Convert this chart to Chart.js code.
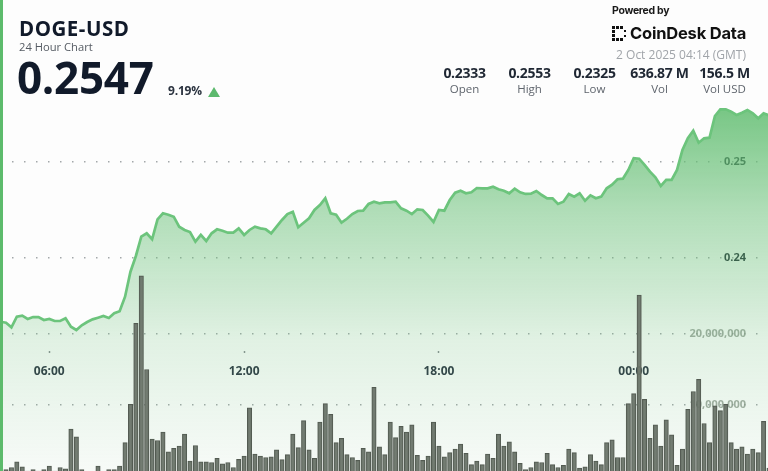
<!DOCTYPE html>
<html>
<head>
<meta charset="utf-8">
<script src="https://cdn.jsdelivr.net/npm/chart.js@4.4.1/dist/chart.umd.min.js"></script>
<style>
  html, body { margin: 0; padding: 0; background: #fdfdfd; }
  body { width: 768px; height: 471px; position: relative; overflow: hidden; font-family: 'Open Sans', sans-serif; color: #111a2a; }
  #chart { position: absolute; left: 0; top: 0; }
  .edge { position: absolute; left: 0; top: 0; width: 3px; height: 471px; background: #5dbb6c; }
  .abs { position: absolute; line-height: 1; white-space: nowrap; }
  .pair { left: 19px; top: 18px; font-size: 20.5px; font-weight: 700; letter-spacing: 0.5px; }
  .sub { left: 19px; top: 41px; font-size: 11.2px; color: #555b63; }
  .last { left: 17px; top: 55px; font-size: 44px; font-weight: 700; letter-spacing: -0.3px; }
  .chg { left: 168px; top: 85px; font-size: 12px; font-weight: 700; color: #2c3440; letter-spacing: -0.2px; }
  .tri { position: absolute; left: 208px; top: 87px; width: 0; height: 0; border-left: 6px solid transparent; border-right: 6px solid transparent; border-bottom: 10px solid #5cb96d; }
  .powered { left: 612px; top: 6px; font-family: Inter, sans-serif; font-size: 10.5px; font-weight: 700; letter-spacing: -0.3px; color: #1a1a1a; }
  .brand { left: 630px; top: 25px; font-family: Inter, sans-serif; font-size: 16.5px; font-weight: 700; letter-spacing: -0.2px; color: #111; }
  .logo span { position: absolute; width: 3px; height: 3px; background: #111; }
  .date { right: 22px; top: 49px; font-size: 12px; color: #a0a4a9; }
  .stats { position: absolute; left: 432px; top: 66px; display: flex; }
  .stats div { width: 65px; text-align: center; line-height: 1; }
  .stats b { display: block; font-size: 14px; font-weight: 700; letter-spacing: -0.3px; color: #1f2733; }
  .stats i { display: block; font-style: normal; font-size: 11.5px; color: #5f656d; margin-top: 3px; }
</style>
</head>
<body>
<canvas id="chart" width="768" height="471"></canvas>
<div class="edge"></div>
<div class="abs pair">DOGE-USD</div>
<div class="abs sub">24 Hour Chart</div>
<div class="abs last">0.2547</div>
<div class="abs chg">9.19%</div>
<div class="tri"></div>
<div class="abs powered">Powered by</div>
<div class="logo">
  <span style="left:612px;top:26px"></span><span style="left:616px;top:26px"></span><span style="left:620px;top:26px"></span>
  <span style="left:612px;top:30px"></span><span style="left:612px;top:34px"></span>
  <span style="left:612px;top:38px"></span><span style="left:616px;top:38px"></span><span style="left:620px;top:38px"></span>
  <span style="left:624px;top:30px;width:2px;height:2px"></span><span style="left:624px;top:35px;width:2px;height:2px"></span>
</div>
<div class="abs brand">CoinDesk Data</div>
<div class="abs date">2 Oct 2025 04:14 (GMT)</div>
<div class="stats" id="stats"></div>
<script>
// 10-minute samples, first one at 04:30 GMT (hours since midnight of the first day)
const timeStart = 4.5;
const stepHours = 1 / 6;

const price = [
  0.23336, 0.23326, 0.23278, 0.23389, 0.23399, 0.23365, 0.23385, 0.23385, 0.23354, 0.23365,
  0.23344, 0.23344, 0.23372, 0.23284, 0.23250, 0.23299, 0.23333, 0.23361, 0.23378, 0.23396,
  0.23375, 0.23424, 0.23445, 0.23597, 0.23857, 0.24021, 0.24222, 0.24257, 0.24195, 0.24403,
  0.24466, 0.24451, 0.24430, 0.24326, 0.24292, 0.24271, 0.24170, 0.24240, 0.24177, 0.24257,
  0.24299, 0.24284, 0.24264, 0.24264, 0.24309, 0.24240, 0.24292, 0.24326, 0.24309, 0.24299,
  0.24257, 0.24326, 0.24396, 0.24458, 0.24482, 0.24320, 0.24368, 0.24414, 0.24500, 0.24552,
  0.24622, 0.24466, 0.24451, 0.24368, 0.24409, 0.24458, 0.24490, 0.24493, 0.24563, 0.24586,
  0.24570, 0.24580,
  0.24580, 0.24586, 0.24518, 0.24493, 0.24458, 0.24507, 0.24500, 0.24441, 0.24375, 0.24500,
  0.24493, 0.24604, 0.24680, 0.24701, 0.24674, 0.24684, 0.24729, 0.24726, 0.24726, 0.24743,
  0.24716, 0.24701, 0.24674, 0.24722, 0.24684, 0.24667, 0.24670, 0.24698, 0.24656, 0.24622,
  0.24622, 0.24563, 0.24586, 0.24667, 0.24639, 0.24674, 0.24597, 0.24653, 0.24622, 0.24639,
  0.24726, 0.24764, 0.24820, 0.24826, 0.24917, 0.25039, 0.25034, 0.24969, 0.24899, 0.24841,
  0.24750, 0.24813, 0.24813, 0.24917, 0.25125, 0.25247, 0.25326, 0.25201, 0.25247, 0.25253,
  0.25479, 0.25549, 0.25549, 0.25524, 0.25490, 0.25514, 0.25542, 0.25507, 0.25455, 0.25507,
  0.25486
];

// volume per 10 minutes, in millions of DOGE
const volumeM = [
  1.65, 0.9, 1.2, 2.0, 1.3, 0.7, 0.9, 0.7, 0.9, 1.4,
  0.7, 1.2, 1.0, 6.6, 5.5, 0.9, 0.6, 0.6, 1.4, 0.6,
  0.9, 0.9, 1.4, 4.7, 10.1, 21.5, 28.2, 15.0, 5.2, 5.0,
  6.2, 3.4, 3.9, 4.2, 5.9, 2.1, 4.3, 2.0, 2.0, 1.9,
  2.5, 1.7, 1.9, 1.2, 2.35, 2.8, 9.6, 3.1,
  2.8, 2.6, 2.7, 3.7, 2.3, 3.0, 5.9, 4.0, 7.8, 3.7,
  2.5, 7.6, 10.2, 8.7, 4.7, 5.3, 3.0, 2.6, 2.2, 3.9,
  3.4, 12.5, 4.1, 3.0, 7.6, 5.4, 7.0, 6.2, 7.2, 2.9,
  2.2, 2.8, 7.6, 4.2, 2.7, 3.3, 3.8, 4.5, 3.2, 1.6,
  2.1, 1.6, 3.1, 2.5, 5.9, 4.2, 4.8,
  3.4, 1.8, 0.9, 1.2, 2.0, 1.9, 3.2, 1.6, 1.2, 1.5,
  3.8, 3.3, 1.1, 1.3, 3.0, 2.1, 1.6, 4.7, 5.1, 2.6,
  2.6, 10.2, 11.6, 25.5, 10.8, 5.3, 7.2, 4.2, 7.9, 5.8,
  1.5, 3.8, 9.4, 11.9, 13.6, 7.4, 4.7, 9.9, 9.2, 10.1,
  4.7, 3.8, 4.1, 3.1, 3.8, 3.3, 7.7, 1.1
];

const priceTicks = [0.24, 0.25];
const volTicks = [10, 20];
const timeTicks = [6, 12, 18, 24];
const timeLabels = ['06:00', '12:00', '18:00', '00:00'];

const statValues = ['0.2333', '0.2553', '0.2325', '636.87 M', '156.5 M'];
const statNames = ['Open', 'High', 'Low', 'Vol', 'Vol USD'];

document.getElementById('stats').innerHTML = statValues
  .map((v, i) => `<div><b>${v}</b><i>${statNames[i]}</i></div>`).join('');

Chart.defaults.font.family = "'Open Sans', sans-serif";

// axes take no room: the chart area fills the canvas below the header
const flatY = s => { s.width = 0; s.paddingTop = 0; s.paddingBottom = 0; };
const flatX = s => { s.height = 0; s.paddingLeft = 0; s.paddingRight = 0; };
const dots = { display: false, dash: [1.5, 10.5] };

function areaFill(ctx) {
  const a = ctx.chart.chartArea;
  if (!a) return 'rgba(100,190,115,0.3)';
  const g = ctx.chart.ctx.createLinearGradient(0, a.top, 0, a.bottom);
  g.addColorStop(0, 'rgba(100,190,115,0.9)');
  g.addColorStop(0.3, 'rgba(100,190,115,0.5)');
  g.addColorStop(0.65, 'rgba(100,190,115,0.18)');
  g.addColorStop(1, 'rgba(100,190,115,0.04)');
  return g;
}

new Chart(document.getElementById('chart'), {
  data: {
    datasets: [{
      type: 'line',
      data: price.map((p, i) => ({ x: timeStart + i * stepHours, y: p })),
      yAxisID: 'y',
      borderColor: '#6cc47c',
      borderWidth: 2.7,
      backgroundColor: areaFill,
      fill: 'start',
      tension: 0,
      pointRadius: 0,
      order: 1
    }, {
      type: 'bar',
      data: volumeM.map((v, i) => ({ x: timeStart + i * stepHours, y: v })),
      yAxisID: 'yVol',
      backgroundColor: 'rgba(108,117,106,0.95)',
      borderColor: '#535b52',
      borderWidth: 1,
      barThickness: 4.4,
      order: 0
    }]
  },
  options: {
    responsive: false,
    animation: false,
    layout: { padding: { top: 100, left: 0, right: 0, bottom: 0 } },
    plugins: { legend: { display: false }, tooltip: { enabled: false } },
    scales: {
      x: {
        type: 'linear', min: 4.4817, max: 28.135, offset: false,
        position: { yVol: 17.6 }, z: 1,
        afterFit: flatX,
        afterBuildTicks: s => { s.ticks = timeTicks.map(v => ({ value: v })); },
        ticks: {
          callback: (v, i) => timeLabels[i], autoSkip: false, maxRotation: 0,
          padding: 11, color: '#2b3442', font: { size: 12, weight: 'bold' }
        },
        grid: { offset: false, drawOnChartArea: false, tickLength: 2, tickColor: '#8a8f93', tickWidth: 1.5 },
        border: { display: false }
      },
      y: {
        position: 'right', min: 0.217813, max: 0.256458, z: 1,
        afterFit: flatY,
        afterBuildTicks: s => { s.ticks = priceTicks.map(v => ({ value: v })); },
        ticks: { mirror: true, padding: -22, color: '#1f2733', font: { size: 11, weight: 'bold' }, callback: v => v.toFixed(2) },
        grid: { color: '#a3a8aa', lineWidth: 1.5, drawTicks: false },
        border: dots
      },
      yVol: {
        position: 'right', min: 0.704, max: 52.96,
        afterFit: flatY,
        afterBuildTicks: s => { s.ticks = volTicks.map(v => ({ value: v })); },
        ticks: { mirror: true, padding: -22, color: 'rgba(140,150,140,0.8)', font: { size: 11, weight: 'bold' }, callback: v => (v * 1e6).toLocaleString('en-US') },
        grid: { color: '#a3a8aa', lineWidth: 1.5, drawTicks: false },
        border: dots
      }
    }
  }
});
</script>
</body>
</html>
